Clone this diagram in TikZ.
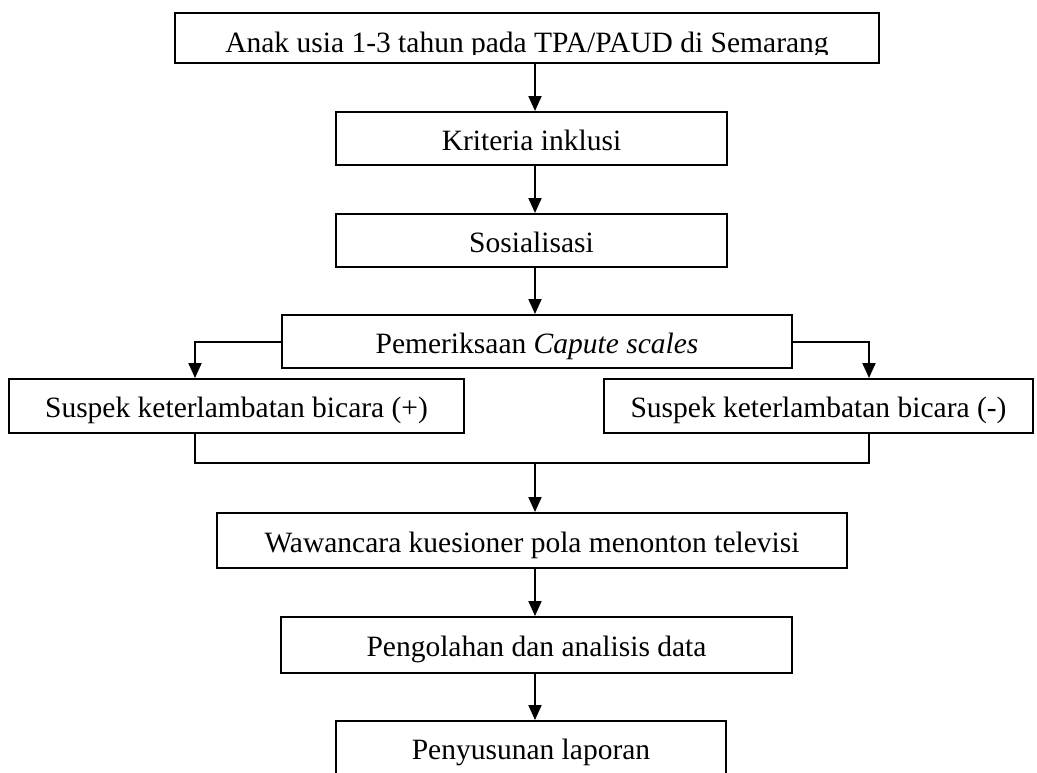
\documentclass[tikz,border=0pt]{standalone}
\usepackage{fontspec}
\setmainfont{Liberation Serif}
\usetikzlibrary{arrows.meta}
\tikzset{
  box/.style={draw, line width=2pt, inner sep=0pt, text height=23pt, text depth=0pt,
    font=\fontsize{29.5}{34}\selectfont},
  plain/.style={inner sep=0pt, text depth=0pt, font=\fontsize{29.5}{34}\selectfont},
  arr/.style={-{Triangle[width=13pt,length=15pt]}, line width=2pt},
  ln/.style={line width=2pt}
}
\begin{document}
\begin{tikzpicture}[x=1pt,y=-1pt]
\useasboundingbox[fill=white] (0,0) rectangle (1037,772);
% boxes
\node[box, minimum width=704pt, minimum height=50pt] (b1) at (527,38) {};
\begin{scope}
  \clip (b1.north west) rectangle ([yshift=-16pt]b1.east);
  \node[plain, text height=28pt] (t1) at (b1) {Anak usia 1-3 tahun pada TPA/PAUD di Semarang};
\end{scope}
\node[box, minimum width=391pt, minimum height=53pt] (b2) at (531.5,138.5) {Kriteria inklusi};
\node[box, minimum width=391pt, minimum height=53pt] (b3) at (531.5,240.5) {Sosialisasi};
\node[box, minimum width=510pt, minimum height=53pt] (b4) at (537,341.5) {Pemeriksaan \textit{Capute scales}};
\node[box, minimum width=455pt, minimum height=54pt] (b5) at (236.5,406) {Suspek keterlambatan bicara (+)};
\node[box, minimum width=429pt, minimum height=54pt] (b6) at (818.5,406) {Suspek keterlambatan bicara (-)};
\node[box, minimum width=630pt, minimum height=55pt] (b7) at (532,540.5) {Wawancara kuesioner pola menonton televisi};
\node[box, minimum width=511pt, minimum height=56pt] (b8) at (536.5,645) {Pengolahan dan analisis data};
\node[box, minimum width=390pt, minimum height=53pt] (b9) at (531,747.5) {Penyusunan laporan};
% helper coordinates
\coordinate (ax) at (535,0);
\coordinate (lx) at (195,0);
\coordinate (rx) at (869,0);
\coordinate (jn) at (535,463);
% connectors
\draw[arr] (b1.south -| ax) -- (b2.north -| ax);
\draw[arr] (b2.south -| ax) -- (b3.north -| ax);
\draw[arr] (b3.south -| ax) -- (b4.north -| ax);
\draw[arr] (b4.west) -| (b5.north -| lx);
\draw[arr] (b4.east) -| (b6.north -| rx);
\draw[ln] (b5.south -| lx) |- (jn) -| (b6.south -| rx);
\draw[arr] (jn) -- (b7.north -| jn);
\draw[arr] (b7.south -| ax) -- (b8.north -| ax);
\draw[arr] (b8.south -| ax) -- (b9.north -| ax);
\end{tikzpicture}
\end{document}
